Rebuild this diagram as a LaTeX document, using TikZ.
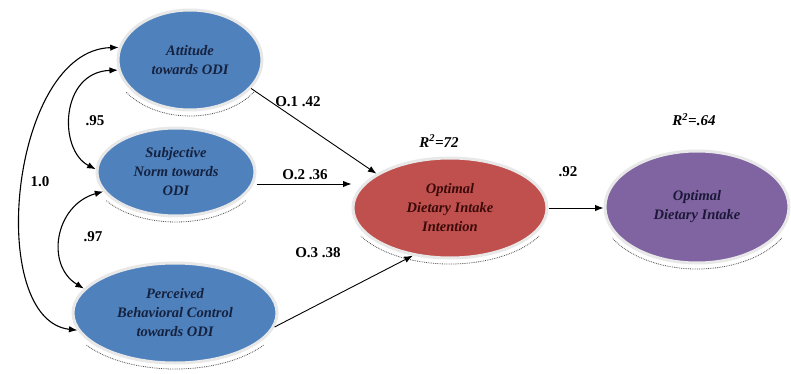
\documentclass[tikz,border=0pt]{standalone}
\usepackage{fontspec}
\setmainfont{Liberation Serif}
\usetikzlibrary{shapes.geometric,arrows.meta,calc}
\definecolor{cblue}{HTML}{4F81BD}
\definecolor{cred}{HTML}{C0504D}
\definecolor{cpurple}{HTML}{8064A2}
\definecolor{tblue}{HTML}{15223F}
\definecolor{tred}{HTML}{3A0A0A}
\definecolor{tpurple}{HTML}{1C1838}
\begin{document}
\begin{tikzpicture}[x=1pt,y=-1pt,
  lat/.style={ellipse, draw=white!82!gray, line width=3pt, inner sep=0pt, outer sep=1.5pt,
    align=center, font=\fontsize{14.5}{19}\selectfont\bfseries\itshape},
  arr/.style={-{Latex[length=8.5pt,width=6.5pt]}, line width=0.9pt},
  biarr/.style={{Latex[length=8.5pt,width=6.5pt]}-{Latex[length=8.5pt,width=6.5pt]}, line width=1.1pt},
  lab/.style={font=\fontsize{15}{18}\selectfont\bfseries},
  rlab/.style={font=\fontsize{15}{18}\selectfont\bfseries\itshape},
  dotarc/.style={densely dotted, line width=0.8pt, gray!60!black}]
\useasboundingbox (0,0) rectangle (791,374);

% latent variables
\node[lat, fill=cblue, text=tblue, minimum width=144pt, minimum height=100pt] (A) at (190,60) {Attitude\\towards ODI};
\node[lat, fill=cblue, text=tblue, minimum width=158pt, minimum height=88pt] (S) at (176,172) {Subjective\\Norm towards\\ODI};
\node[lat, fill=cblue, text=tblue, minimum width=204pt, minimum height=100pt] (P) at (175,313) {Perceived\\Behavioral Control\\towards ODI};
\node[lat, fill=cred, text=tred, minimum width=194pt, minimum height=100pt] (R) at (450,208) {Optimal\\Dietary Intake\\Intention};
\node[lat, fill=cpurple, text=tpurple, minimum width=184pt, minimum height=112pt] (U) at (697,207) {Optimal\\Dietary Intake};

% dotted shadows under ellipses
\draw[dotarc] (A.center) ++(35:78 and 56) arc[start angle=35,end angle=145,x radius=78,y radius=56];
\draw[dotarc] (S.center) ++(35:85 and 50) arc[start angle=35,end angle=145,x radius=85,y radius=50];
\draw[dotarc] (P.center) ++(35:108 and 56) arc[start angle=35,end angle=145,x radius=108,y radius=56];
\draw[dotarc] (R.center) ++(30:103 and 56) arc[start angle=30,end angle=150,x radius=103,y radius=56];
\draw[dotarc] (U.center) ++(30:98 and 62) arc[start angle=30,end angle=150,x radius=98,y radius=62];

% covariances
\draw[biarr] (A.170) .. controls (10,50) and (-15,320) .. (P.190);
\draw[biarr] (A.188) .. controls (60,72) and (58,150) .. (S.178);
\draw[biarr] (S.195) .. controls (55,205) and (45,265) .. (P.165);

% paths
\draw[arr] (A.-25) -- (R.155);
\draw[arr] ([yshift=-12pt]S.east) -- ([yshift=-12pt]S.east -| R.west);
\draw[arr] (P.-8) -- (R.232);
\draw[arr] (R.east) -- (R.east -| U.west);

% labels
\node[lab] (l95) at (95,121) {.95};
\node[lab] (l10) at (40,182) {1.0};
\node[lab] (l97) at (93,237) {.97};
\node[lab] (o1) at (298,102) {O.1 .42};
\node[lab] (o2) at (305,175) {O.2 .36};
\node[lab] (o3) at (318,253) {O.3 .38};
\node[lab] (l92) at (568,172) {.92};
\node[rlab] (r1) at (439,141) {R\textsuperscript{2}=72};
\node[rlab] (r2) at (694,120) {R\textsuperscript{2}=.64};
\end{tikzpicture}
\end{document}
